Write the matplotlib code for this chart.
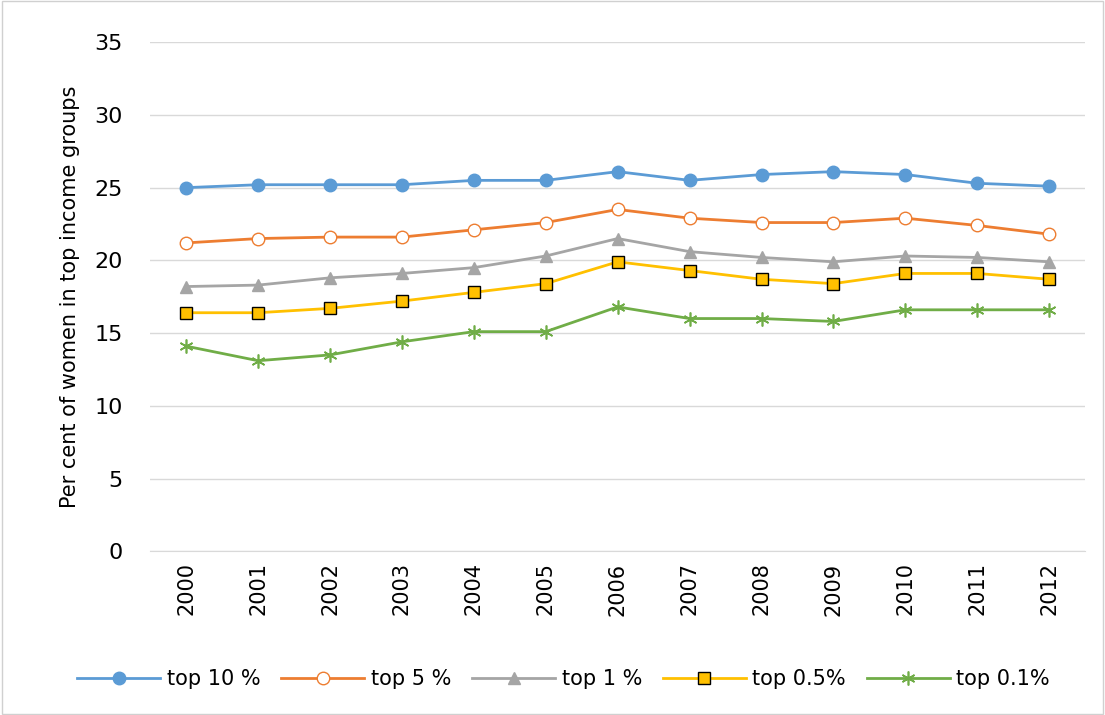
import matplotlib
matplotlib.use("Agg")
import matplotlib.pyplot as plt

years = [str(y) for y in range(2000, 2013)]
top10 = [25.0, 25.2, 25.2, 25.2, 25.5, 25.5, 26.1, 25.5, 25.9, 26.1, 25.9, 25.3, 25.1]
top5 = [21.2, 21.5, 21.6, 21.6, 22.1, 22.6, 23.5, 22.9, 22.6, 22.6, 22.9, 22.4, 21.8]
top1 = [18.2, 18.3, 18.8, 19.1, 19.5, 20.3, 21.5, 20.6, 20.2, 19.9, 20.3, 20.2, 19.9]
top05 = [16.4, 16.4, 16.7, 17.2, 17.8, 18.4, 19.9, 19.3, 18.7, 18.4, 19.1, 19.1, 18.7]
top01 = [14.1, 13.1, 13.5, 14.4, 15.1, 15.1, 16.8, 16.0, 16.0, 15.8, 16.6, 16.6, 16.6]

fig = plt.figure(figsize=(11.05, 7.15), dpi=100)
ax = fig.add_axes([0.136, 0.229, 0.846, 0.712])
x = range(len(years))
ax.plot(x, top10, color="#5b9bd5", lw=2, marker="o", ms=9, label="top 10 %")
ax.plot(x, top5, color="#ed7d31", lw=2, marker="o", ms=9, mfc="white", mec="#ed7d31", label="top 5 %")
ax.plot(x, top1, color="#a5a5a5", lw=2, marker="^", ms=9, label="top 1 %")
ax.plot(x, top05, color="#ffc000", lw=2, marker="s", ms=8, mec="black", mew=1, label="top 0.5%")
ax.plot(x, top01, color="#70ad47", lw=2, marker=(6, 2, 0), ms=10, mew=1.2, label="top 0.1%")

ax.set_ylim(0, 35)
ax.set_yticks(range(0, 36, 5))
ax.set_xlim(-0.5, len(years) - 0.5)
ax.set_xticks(list(x))
ax.set_xticklabels(years, rotation=90, fontsize=15)
ax.tick_params(axis="y", labelsize=16, length=0, pad=20)
ax.tick_params(axis="x", length=0, pad=8)
ax.grid(axis="y", color="#d9d9d9", lw=1)
ax.set_axisbelow(True)
for s in ["top", "right", "left"]:
    ax.spines[s].set_visible(False)
ax.spines["bottom"].set_color("#d9d9d9")
ax.set_ylabel("Per cent of women in top income groups", fontsize=15, labelpad=10)
fig.legend(loc="lower center", bbox_to_anchor=(0.51, 0.01), ncol=5, frameon=False,
           fontsize=15, handlelength=4, columnspacing=1.0, handletextpad=0.3)
fig.patches.append(plt.Rectangle((0.002, 0.002), 0.996, 0.996, transform=fig.transFigure,
                                 fill=False, ec="#d0d0d0", lw=1))
fig.savefig("out.png", dpi=100)
